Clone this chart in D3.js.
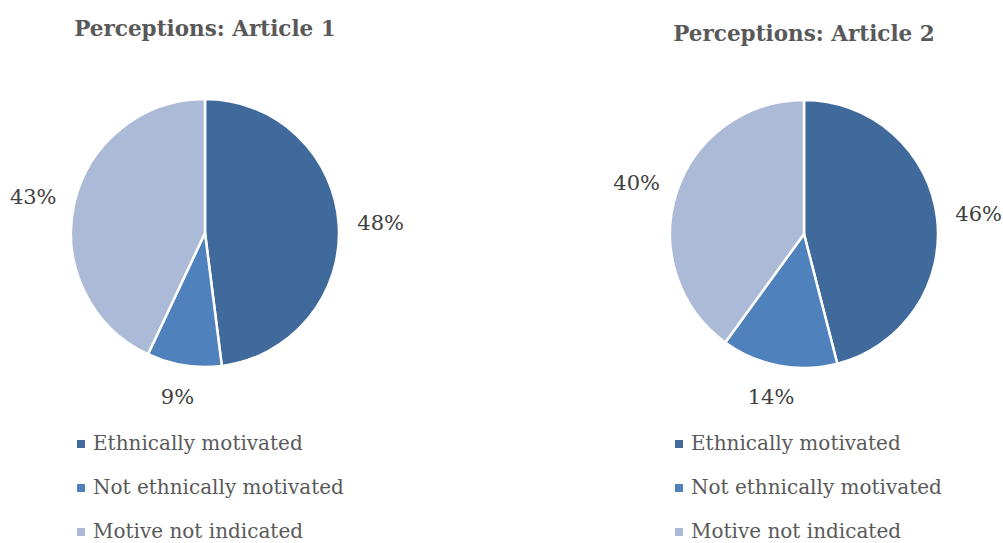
<!DOCTYPE html>
<html>
<head>
<meta charset="utf-8">
<script src="https://cdn.jsdelivr.net/npm/d3@7"></script>
<style>
  body { margin: 0; background: #fff; }
  text { font-family: "DejaVu Serif", serif; }
</style>
</head>
<body>
<svg id="chart"></svg>
<script>
const width = 1003, height = 543;

// Data
const categories = ["Ethnically motivated", "Not ethnically motivated", "Motive not indicated"];
const article1 = [48, 9, 43];
const article2 = [46, 14, 40];
const titles = ["Perceptions: Article 1", "Perceptions: Article 2"];
const colors = ["#416a9c", "#4f81bd", "#abbad7"];

const charts = [
  {title: titles[0], values: article1, cx: 205, cy: 233, titleY: 28, legendX: 77},
  {title: titles[1], values: article2, cx: 804, cy: 234, titleY: 33, legendX: 675}
];

const radius = 134,
      labelRadius = 166;

let svg = d3.select("#chart")
            .attr("width", width)
            .attr("height", height);

let color = d3.scaleOrdinal()
              .domain(categories)
              .range(colors);

let pie = d3.pie()
            .sort(null)
            .value((d) => { return d.value; });

let arc = d3.arc()
            .innerRadius(0)
            .outerRadius(radius);

let labelArc = d3.arc()
                 .innerRadius(labelRadius)
                 .outerRadius(labelRadius);

charts.forEach((c) => {
  let data = categories.map((k, i) => { return {key: k, value: c.values[i]}; });
  let arcs = pie(data);

  // Title
  svg.append("text")
     .attr("x", c.cx)
     .attr("y", c.titleY)
     .attr("dy", "0.35em")
     .style("text-anchor", "middle")
     .style("font-weight", "bold")
     .style("font-size", "21.5px")
     .style("fill", "#595959")
     .text(c.title);

  let g = svg.append("g")
             .attr("transform", "translate(" + c.cx + "," + c.cy + ")");

  // Slices
  g.selectAll(".slice")
   .data(arcs)
   .enter().append("path")
   .attr("class", "slice")
   .attr("d", arc)
   .style("fill", (d) => { return color(d.data.key); })
   .style("stroke", "#fff")
   .style("stroke-width", 2.5);

  // Percentage labels, pushed out by a bit horizontally
  g.selectAll(".label")
   .data(arcs)
   .enter().append("text")
   .attr("class", "label")
   .attr("transform", (d) => {
     let p = labelArc.centroid(d);
     let mid = (d.startAngle + d.endAngle) / 2;
     p[0] += 10 * Math.sin(mid);
     return "translate(" + p + ")";
   })
   .attr("dy", "0.35em")
   .style("text-anchor", "middle")
   .style("font-size", "21px")
   .style("fill", "#404040")
   .text((d) => { return d.data.value + "%"; });

  // Legend
  let legend = svg.append("g")
                  .attr("transform", "translate(" + c.legendX + ",444)");

  let row = legend.selectAll(".legend-row")
                  .data(categories)
                  .enter().append("g")
                  .attr("class", "legend-row")
                  .attr("transform", (d, i) => { return "translate(0," + i * 44 + ")"; });

  row.append("rect")
     .attr("x", 0)
     .attr("y", -4)
     .attr("width", 8)
     .attr("height", 8)
     .style("fill", (d) => { return color(d); });

  row.append("text")
     .attr("x", 16)
     .attr("y", -1)
     .attr("dy", "0.35em")
     .style("font-size", "20px")
     .style("fill", "#595959")
     .text((d) => { return d; });
});
</script>
</body>
</html>
